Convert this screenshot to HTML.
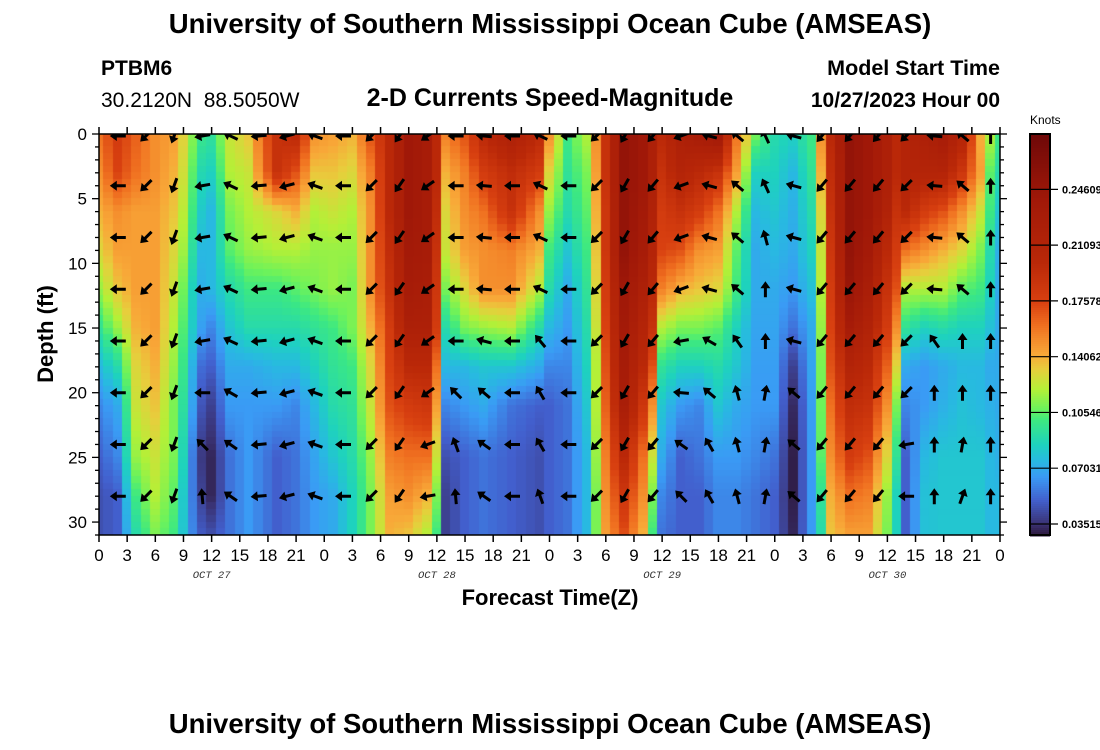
<!DOCTYPE html>
<html><head><meta charset="utf-8">
<style>
html,body{margin:0;padding:0;background:#fff;width:1100px;height:750px;overflow:hidden;font-family:"Liberation Sans",Arial,sans-serif}
#wrap{position:relative;width:1100px;height:750px}
canvas{position:absolute;left:99px;top:134px}
svg{position:absolute;left:0;top:0}
</style></head>
<body>
<div id="wrap">
<canvas id="heat" width="901" height="401"></canvas>
<svg id="svg" width="1100" height="750">
<text x="550" y="33" text-anchor="middle" font-size="27.5" font-weight="bold">University of Southern Mississippi Ocean Cube (AMSEAS)</text>
<text x="101" y="75" font-size="21" font-weight="bold">PTBM6</text>
<text x="101" y="107" font-size="21" xml:space="preserve" style="white-space:pre">30.2120N  88.5050W</text>
<text x="550" y="106" text-anchor="middle" font-size="25" font-weight="bold">2-D Currents Speed-Magnitude</text>
<text x="1000" y="75" text-anchor="end" font-size="21.5" font-weight="bold">Model Start Time</text>
<text x="1000" y="107" text-anchor="end" font-size="21" font-weight="bold">10/27/2023 Hour 00</text>
<text x="550" y="733" text-anchor="middle" font-size="27.5" font-weight="bold">University of Southern Mississippi Ocean Cube (AMSEAS)</text>
<text transform="translate(53,334) rotate(-90)" text-anchor="middle" font-size="22" font-weight="bold">Depth (ft)</text>
<text x="550" y="605" text-anchor="middle" font-size="22" font-weight="bold">Forecast Time(Z)</text>
<text x="1030" y="124" font-size="12">Knots</text>
<g id="axes"></g>
<g id="arrows"></g>
<g id="cbar"></g>
</svg>
</div>
<script>
// ---- data ----
const times=[0,2,4,6,8,9.5,10.5,12,14,16,19,21,23,25,27,29,31,33,35,36,37,39,41,44,47,48,50,52,53,54,56,58,59,60,62,64,66,68,70,72,74,76,77,78,80,82,84,85,86,88,90,92,94,95,96];
const depths=[0,3,6,9,12,15,18,21,25,28,31];
const speed=[
[0.16,0.15,0.14,0.13,0.115,0.095,0.075,0.06,0.05,0.045,0.045],
[0.18,0.175,0.15,0.145,0.135,0.115,0.09,0.07,0.06,0.05,0.05],
[0.165,0.16,0.145,0.145,0.145,0.14,0.13,0.125,0.115,0.1,0.09],
[0.15,0.15,0.145,0.145,0.145,0.145,0.14,0.135,0.125,0.12,0.11],
[0.145,0.14,0.135,0.13,0.125,0.12,0.115,0.11,0.11,0.105,0.1],
[0.125,0.12,0.115,0.11,0.1,0.095,0.09,0.085,0.075,0.07,0.07],
[0.1,0.09,0.085,0.075,0.07,0.07,0.055,0.05,0.04,0.045,0.05],
[0.095,0.085,0.075,0.075,0.075,0.06,0.05,0.04,0.032,0.032,0.045],
[0.125,0.12,0.11,0.105,0.09,0.08,0.07,0.065,0.055,0.055,0.055],
[0.135,0.125,0.12,0.115,0.1,0.09,0.07,0.065,0.065,0.065,0.065],
[0.19,0.19,0.13,0.12,0.1,0.09,0.075,0.065,0.05,0.05,0.05],
[0.2,0.17,0.14,0.12,0.105,0.09,0.075,0.06,0.055,0.055,0.055],
[0.15,0.135,0.12,0.115,0.11,0.095,0.085,0.075,0.068,0.065,0.065],
[0.145,0.135,0.125,0.115,0.115,0.1,0.095,0.09,0.08,0.07,0.07],
[0.14,0.13,0.12,0.115,0.11,0.11,0.1,0.095,0.09,0.085,0.085],
[0.17,0.155,0.15,0.15,0.15,0.14,0.13,0.125,0.115,0.11,0.11],
[0.2,0.2,0.2,0.195,0.19,0.18,0.175,0.17,0.155,0.145,0.14],
[0.24,0.24,0.24,0.235,0.23,0.22,0.2,0.18,0.16,0.15,0.135],
[0.23,0.23,0.23,0.23,0.225,0.22,0.2,0.185,0.16,0.14,0.12],
[0.2,0.2,0.195,0.19,0.185,0.18,0.16,0.145,0.125,0.11,0.1],
[0.155,0.14,0.13,0.125,0.11,0.09,0.075,0.06,0.045,0.04,0.04],
[0.17,0.155,0.15,0.145,0.13,0.11,0.075,0.065,0.05,0.05,0.05],
[0.2,0.18,0.16,0.15,0.15,0.115,0.08,0.07,0.055,0.055,0.055],
[0.22,0.195,0.19,0.155,0.15,0.12,0.08,0.055,0.05,0.05,0.05],
[0.2,0.18,0.15,0.14,0.12,0.09,0.07,0.05,0.045,0.045,0.045],
[0.15,0.13,0.115,0.1,0.09,0.075,0.06,0.05,0.05,0.05,0.05],
[0.1,0.095,0.09,0.08,0.07,0.065,0.06,0.055,0.055,0.055,0.055],
[0.12,0.11,0.105,0.1,0.095,0.09,0.085,0.08,0.075,0.075,0.075],
[0.15,0.145,0.14,0.135,0.13,0.125,0.12,0.12,0.115,0.11,0.11],
[0.19,0.19,0.185,0.185,0.18,0.175,0.17,0.165,0.155,0.15,0.145],
[0.25,0.25,0.25,0.25,0.24,0.235,0.23,0.225,0.2,0.185,0.17],
[0.24,0.24,0.235,0.23,0.22,0.21,0.2,0.185,0.16,0.15,0.14],
[0.22,0.22,0.215,0.21,0.2,0.19,0.17,0.15,0.125,0.11,0.1],
[0.2,0.19,0.18,0.175,0.155,0.12,0.095,0.08,0.07,0.06,0.055],
[0.22,0.21,0.19,0.17,0.14,0.11,0.085,0.065,0.05,0.05,0.05],
[0.23,0.2,0.18,0.15,0.135,0.11,0.085,0.06,0.055,0.05,0.05],
[0.24,0.19,0.16,0.145,0.13,0.105,0.09,0.08,0.065,0.06,0.06],
[0.16,0.145,0.12,0.105,0.1,0.085,0.08,0.07,0.065,0.06,0.06],
[0.11,0.085,0.075,0.07,0.07,0.068,0.066,0.065,0.06,0.055,0.055],
[0.09,0.085,0.08,0.075,0.07,0.068,0.066,0.065,0.055,0.05,0.05],
[0.085,0.075,0.072,0.07,0.065,0.055,0.04,0.033,0.03,0.03,0.032],
[0.1,0.095,0.09,0.085,0.078,0.07,0.068,0.066,0.065,0.065,0.065],
[0.15,0.14,0.13,0.125,0.12,0.115,0.11,0.108,0.105,0.095,0.09],
[0.2,0.195,0.19,0.185,0.18,0.175,0.17,0.16,0.15,0.14,0.135],
[0.25,0.25,0.25,0.25,0.245,0.23,0.21,0.195,0.18,0.16,0.145],
[0.24,0.24,0.24,0.235,0.225,0.215,0.2,0.19,0.17,0.155,0.145],
[0.22,0.22,0.215,0.2,0.19,0.18,0.165,0.15,0.13,0.115,0.11],
[0.2,0.2,0.19,0.18,0.17,0.15,0.13,0.11,0.095,0.085,0.085],
[0.21,0.21,0.2,0.16,0.12,0.095,0.07,0.06,0.05,0.05,0.05],
[0.22,0.21,0.18,0.15,0.12,0.085,0.065,0.065,0.075,0.078,0.078],
[0.23,0.21,0.17,0.14,0.12,0.09,0.07,0.072,0.08,0.08,0.08],
[0.21,0.185,0.15,0.13,0.105,0.085,0.075,0.078,0.08,0.08,0.08],
[0.14,0.145,0.125,0.11,0.1,0.085,0.075,0.075,0.08,0.08,0.08],
[0.12,0.105,0.1,0.09,0.085,0.078,0.07,0.072,0.075,0.075,0.075],
[0.1,0.09,0.08,0.072,0.07,0.07,0.07,0.07,0.072,0.075,0.075]
];
const arrowHours=[2,5,8,11,14,17,20,23,26,29,32,35,38,41,44,47,50,53,56,59,62,65,68,71,74,77,80,83,86,89,92,95];
const arrowDepths=[0,4,8,12,16,20,24,28];
const arrowAngles=[
[180,225,250,190,155,185,195,160,180,225,235,215,180,175,180,155,180,225,240,230,200,165,140,115,165,230,230,230,225,175,140,90],
[180,225,250,190,155,185,195,160,180,225,235,215,180,175,180,155,180,225,240,230,200,165,140,115,165,230,230,230,225,175,140,90],
[180,225,250,190,155,185,195,160,180,225,235,215,180,175,180,155,180,225,240,230,200,165,140,105,165,230,230,230,225,175,140,90],
[180,225,250,190,155,185,195,160,180,225,235,215,180,175,180,155,180,225,240,230,200,165,140,90,165,230,230,230,225,175,140,90],
[180,225,250,190,155,185,195,160,180,225,235,215,180,165,180,130,180,225,240,230,190,150,125,90,165,230,230,230,225,125,90,90],
[180,225,250,180,150,185,195,160,180,225,235,215,135,140,180,120,180,225,240,230,175,140,105,80,140,230,230,230,225,90,90,90],
[180,225,250,135,145,185,195,160,180,225,235,200,110,145,180,120,180,225,240,230,145,120,105,80,140,230,230,230,190,90,80,90],
[180,225,250,95,145,185,195,160,180,225,235,190,95,145,180,110,180,225,240,230,135,120,105,80,140,230,230,230,180,90,70,90]
];
const xTickLabels=["0","3","6","9","12","15","18","21","0","3","6","9","12","15","18","21","0","3","6","9","12","15","18","21","0","3","6","9","12","15","18","21","0"];
const yTickLabels=["0","5","10","15","20","25","30"];
const dayLabels=["OCT 27","OCT 28","OCT 29","OCT 30"];
const dayHours=[12,36,60,84];
const cbarLabels=["0.03515","0.07031","0.10546","0.14062","0.17578","0.21093","0.24609"];
const cbarValues=[0.03515,0.07031,0.10546,0.14062,0.17578,0.21093,0.24609];

// ---- scales ----
const X0=99,X1=1000,Y0=134,Y1=535,TMAX=96,DMAX=31;
const X=h=>X0+h*(X1-X0)/TMAX;
const Y=d=>Y0+d*(Y1-Y0)/DMAX;
const VMIN=0.0282,VMAX=0.281;
const stops=[[0.0282,[45,24,60]],[0.035,[58,50,115]],[0.05,[66,95,205]],[0.065,[58,155,245]],[0.075,[40,185,225]],[0.085,[30,210,190]],[0.1,[60,232,130]],[0.108,[110,242,90]],[0.12,[180,240,55]],[0.133,[232,205,60]],[0.142,[248,168,56]],[0.16,[240,112,32]],[0.175,[216,64,16]],[0.2,[186,40,8]],[0.24,[160,24,8]],[0.281,[110,8,8]]];
function color(v){
  if(v<=stops[0][0])return stops[0][1];
  for(let i=1;i<stops.length;i++){if(v<=stops[i][0]){const a=stops[i-1],b=stops[i];const t=(v-a[0])/(b[0]-a[0]);return a[1].map((c,j)=>Math.round(c+(b[1][j]-c)*t));}}
  return stops[stops.length-1][1];
}
function seg(arr,x){let i=0;while(i<arr.length-2&&x>arr[i+1])i++;const t=Math.max(0,Math.min(1,(x-arr[i])/(arr[i+1]-arr[i])));return [i,t];}
function sample(h,d){
  const [i,ti]=seg(times,h),[j,tj]=seg(depths,d);
  const a=speed[i][j]*(1-tj)+speed[i][j+1]*tj;
  const b=speed[i+1][j]*(1-tj)+speed[i+1][j+1]*tj;
  return a*(1-ti)+b*ti;
}
// ---- heatmap ----
const ctx=document.getElementById('heat').getContext('2d');
for(let h=0;h<=TMAX;h++){for(let d=0;d<DMAX;d+=0.5){
  const c=color(sample(h,d+0.25));
  ctx.fillStyle=`rgb(${c[0]},${c[1]},${c[2]})`;
  const x0=Math.max(X0,X(h-0.5)),x1=Math.min(X1,X(h+0.5));
  ctx.fillRect(Math.floor(x0-X0),Math.floor(Y(d)-Y0),Math.ceil(x1-x0)+1,Math.ceil(Y(d+0.5)-Y(d))+1);
}}
// ---- axes ----
const NS='http://www.w3.org/2000/svg';
function mk(tag,attrs,parent,text){const e=document.createElementNS(NS,tag);for(const k in attrs)e.setAttribute(k,attrs[k]);if(text!==undefined)e.textContent=text;parent.appendChild(e);return e;}
const ax=document.getElementById('axes');
let fr=mk('rect',{x:X0,y:Y0,width:X1-X0,height:Y1-Y0,fill:'none',stroke:'#000','stroke-width':1.5},ax);


for(let k=0;k<xTickLabels.length;k++){
  const x=X(k*3);
  let t=mk('line',{x1:x,x2:x,y1:Y0-7,y2:Y0,stroke:'#000','stroke-width':1.5},ax);
  
  
  t=mk('line',{x1:x,x2:x,y1:Y1,y2:Y1+7,stroke:'#000','stroke-width':1.5},ax);
  
  
  const l=mk('text',{x:x,y:Y1+26,'text-anchor':'middle','font-size':17},ax,xTickLabels[k]);
  
  
}
for(let k=0;k<dayLabels.length;k++){
  const l=mk('text',{x:X(dayHours[k]),y:Y1+43,'text-anchor':'middle','font-size':10.5,'font-style':'italic','font-family':'Liberation Mono, monospace',fill:'#333'},ax,dayLabels[k]);
  
  
}
for(let d=0;d<=DMAX;d++){
  const len=d%5===0?7:4,y=Y(d);
  let t=mk('line',{x1:X0-len,x2:X0,y1:y,y2:y,stroke:'#000','stroke-width':1.3},ax);
  
  
  t=mk('line',{x1:X1,x2:X1+len,y1:y,y2:y,stroke:'#000','stroke-width':1.3},ax);
  
  
}
for(let k=0;k<yTickLabels.length;k++){
  const l=mk('text',{x:X0-12,y:Y(k*5)+6,'text-anchor':'end','font-size':17},ax,yTickLabels[k]);
  
  
}
// ---- arrows ----
const ag=document.getElementById('arrows');
mk('clipPath',{id:'clip'},ag);
mk('rect',{x:X0,y:Y0,width:X1-X0+10,height:Y1-Y0},ag.firstChild);
ag.setAttribute('clip-path','url(#clip)');
for(let r=0;r<arrowDepths.length;r++){for(let k=0;k<arrowHours.length;k++){
  const cx=X(arrowHours[k]),cy=Y(arrowDepths[r])+(r===0?2:0);
  const a=mk('path',{d:'M-8,-1.5 L1,-1.5 L1,-5 L8,0 L1,5 L1,1.5 L-8,1.5 Z',fill:'#000',transform:`translate(${cx.toFixed(1)},${cy.toFixed(1)}) rotate(${-arrowAngles[r][k]})`},ag);
  
  
}}
// ---- colorbar ----
const cb=document.getElementById('cbar');
const CX=1030,CW=20;
for(let y=Y0;y<Y1;y+=2){
  const v=VMAX-(y-Y0+1)/(Y1-Y0)*(VMAX-VMIN);const c=color(v);
  const s=mk('rect',{x:CX,y:y,width:CW,height:2.5,fill:`rgb(${c[0]},${c[1]},${c[2]})`},cb);
  
  
}
let cf=mk('rect',{x:CX,y:Y0,width:CW,height:Y1-Y0,fill:'none',stroke:'#000','stroke-width':2},cb);


for(let k=0;k<cbarValues.length;k++){
  const y=Y0+(VMAX-cbarValues[k])/(VMAX-VMIN)*(Y1-Y0);
  let t=mk('line',{x1:CX,x2:CX+CW+8,y1:y,y2:y,stroke:'#000','stroke-width':1.2},cb);
  
  
  const l=mk('text',{x:CX+CW+12,y:y+4,'font-size':11,'font-weight':'bold'},cb,cbarLabels[k]);
  
  
}
</script>
</body></html>
